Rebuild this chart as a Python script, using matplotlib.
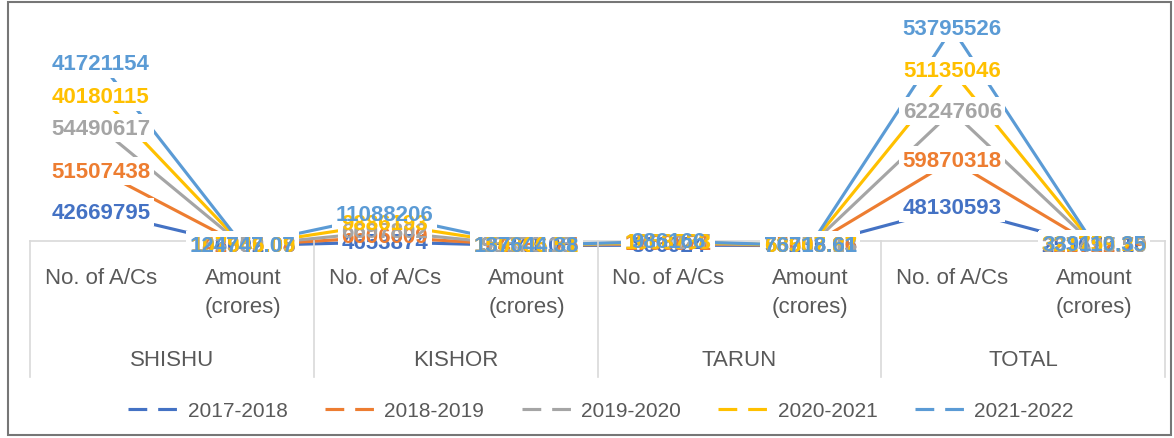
import numpy as np
import matplotlib.pyplot as plt
from matplotlib.lines import Line2D
from matplotlib.patches import Rectangle
import matplotlib.transforms as mtransforms

plt.rcParams['font.family'] = ['Liberation Sans', 'DejaVu Sans']

# categories (two-level axis)
groups = ['SHISHU', 'KISHOR', 'TARUN', 'TOTAL']
sub_labels = ['No. of A/Cs', 'Amount\n(crores)']
years = ['2017-2018', '2018-2019', '2019-2020', '2020-2021', '2021-2022']
colors = ['#4472C4', '#ED7D31', '#A5A5A5', '#FFC000', '#5B9BD5']

# values per year: Shishu no/amt, Kishor no/amt, Tarun no/amt, Total no/amt
v2017 = [42669795, 106602.08, 4653874, 93841.08, 806924, 53235.05, 48130593, 253677.10]
v2018 = [51507438, 142345.08, 6606009, 104386.75, 1756871, 75003.86, 59870318, 321722.79]
v2019 = [54490617, 163559.05, 6697802, 95578.15, 1059187, 78358.13, 62247606, 337495.53]
v2020 = [40180115, 107946.09, 9886193, 150306.51, 1068738, 63507.87, 51135046, 321759.25]
v2021 = [41721154, 124747.07, 11088206, 137644.38, 986166, 76718.61, 53795526, 339110.35]

series = np.array([v2017, v2018, v2019, v2020, v2021])
stacked = np.cumsum(series, axis=0)   # stacked line chart

def fmt(v):
    return str(int(v)) if float(v).is_integer() else f"{v:.2f}"

fig = plt.figure(figsize=(11.74, 4.39), dpi=100)
ax = fig.add_axes([30 / 1174, 1 - 242 / 439, 1135 / 1174, 237 / 439])

x = np.arange(8)
for i in range(len(years)):
    ax.plot(x, stacked[i], color=colors[i], lw=2.25, zorder=2,
            solid_capstyle='butt', clip_on=False)

# label backgrounds first (hide the lines), then the texts on top
for i in range(len(years)):
    for j in range(8):
        ax.text(x[j], stacked[i][j], fmt(series[i][j]), ha='center', va='center',
                fontsize=16, fontweight='bold', color='white', zorder=3,
                bbox=dict(facecolor='white', edgecolor='none', pad=2.5))
for i in range(len(years)):
    for j in range(8):
        ax.text(x[j], stacked[i][j], fmt(series[i][j]), ha='center', va='center',
                fontsize=16, fontweight='bold', color=colors[i], zorder=4)

ax.set_xlim(-0.5, 7.5)
ax.set_ylim(6.0e6, 3.06e8)
ax.set_yticks([])
for s in ['top', 'left', 'right']:
    ax.spines[s].set_visible(False)
ax.spines['bottom'].set_color('#d9d9d9')
ax.spines['bottom'].set_linewidth(1.2)
ax.spines['bottom'].set_zorder(1)

ax.set_xticks(x)
ax.set_xticklabels(sub_labels * 4, fontsize=16, color='#595959', linespacing=1.45, va='top')
ax.tick_params(axis='x', length=0, pad=19)

trans = mtransforms.blended_transform_factory(ax.transData, ax.transAxes)
for k, g in enumerate(groups):
    ax.text(2 * k + 0.5, -0.5, g, transform=trans, ha='center', va='center',
            fontsize=16, color='#595959')
for b in [-0.5, 1.5, 3.5, 5.5, 7.5]:
    ax.plot([b, b], [0, -0.574], transform=trans, color='#d9d9d9', lw=1.2, clip_on=False)

handles = [Line2D([], [], color=c, lw=2.25, ls=(0, (6, 3.5))) for c in colors]
fig.legend(handles, years, loc='center', bbox_to_anchor=(0.512, 1 - 412 / 439), ncol=5,
           frameon=False, fontsize=15, handlelength=2.7, handletextpad=0.15,
           columnspacing=1.8, labelcolor='#595959')

fig.patches.append(Rectangle((8 / 1174, 3 / 439), 1163 / 1174, 433 / 439,
                             transform=fig.transFigure, fill=False,
                             edgecolor='#767676', lw=1.5))

fig.savefig('out.png', dpi=100)
